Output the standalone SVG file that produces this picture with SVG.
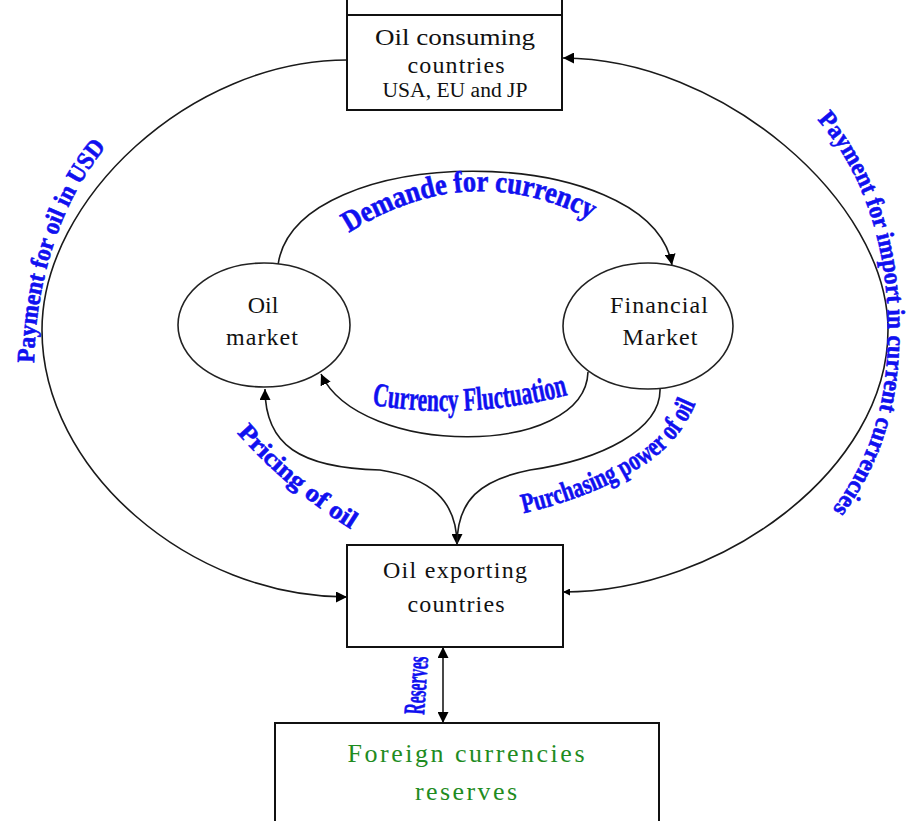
<svg xmlns="http://www.w3.org/2000/svg" width="909" height="821" viewBox="0 0 909 821">
<style>
.box{fill:#fff;stroke:#111;stroke-width:2}
.ell{fill:#fff;stroke:#222;stroke-width:1.6}
.lbl{font-family:"Liberation Serif",serif;fill:#111;text-anchor:middle}
.cn{fill:none;stroke:#1a1a1a;stroke-width:1.6}
.blue{font-family:"Liberation Serif",serif;font-weight:bold;fill:#1010f0;stroke:#1010f0;stroke-width:0.6}
.green{font-family:"Liberation Serif",serif;fill:#1f8c1f;text-anchor:middle}
</style>
<defs>
<marker id="ah" viewBox="0 0 10 10" refX="10" refY="5" markerWidth="11" markerHeight="11" markerUnits="userSpaceOnUse" orient="auto-start-reverse"><path d="M0,0 L10,5 L0,10 z" fill="#000"/></marker>
<marker id="ahs" viewBox="0 0 10 10" refX="10" refY="5" markerWidth="7" markerHeight="7" markerUnits="userSpaceOnUse" orient="auto-start-reverse"><path d="M0,0 L10,5 L0,10 z" fill="#000"/></marker>
<path id="tpLeft" d="M 34 372 C 34 280, 62 196, 112 140"/>
<path id="tpRight" d="M 810 112 C 858 160, 888 240, 888 330 C 888 420, 860 475, 826 518"/>
<path id="tpDem" d="M 338 240 Q 470 150 602 226"/>
<path id="tpCur" d="M 368 404 Q 465 422 572 394"/>
<path id="tpPur" d="M 520 514 C 575 502, 625 480, 655 457 C 675 442, 688 422, 697 400"/>
<path id="tpPri" d="M 236 432 Q 285 488 352 530"/>
</defs>

<g id="connectors">
<path class="cn" d="M 347 60 C 190 60, 42 200, 42 330 C 42 470, 190 597, 347 597" marker-end="url(#ah)"/>
<path class="cn" d="M 563 592 C 720 592, 888 470, 888 330 C 888 200, 720 58, 563 58" marker-start="url(#ahs)" marker-end="url(#ah)"/>
<path class="cn" d="M 278 265 C 295 140, 650 140, 672 265" marker-end="url(#ah)"/>
<path class="cn" d="M 588 372 C 585 458, 360 458, 321 374" marker-end="url(#ah)"/>
<path class="cn" d="M 457 545 C 457 500, 430 478, 380 470 C 300 468, 265 445, 265 389" marker-start="url(#ah)" marker-end="url(#ah)"/>
<path class="cn" d="M 457 545 C 457 500, 480 480, 530 470 C 600 460, 662 430, 660 388"/>
<path class="cn" d="M 443 647 L 443 723" marker-start="url(#ah)" marker-end="url(#ah)"/>
</g>

<g id="labels">
<text class="blue" font-size="25"><textPath href="#tpLeft" startOffset="50%" text-anchor="middle" textLength="232" lengthAdjust="spacingAndGlyphs">Payment for oil in USD</textPath></text>
<text class="blue" font-size="25"><textPath href="#tpRight" startOffset="50%" text-anchor="middle" textLength="418" lengthAdjust="spacingAndGlyphs">Payment for import in current currencies</textPath></text>
<text class="blue" font-size="30"><textPath href="#tpDem" startOffset="50%" text-anchor="middle" textLength="255" lengthAdjust="spacingAndGlyphs">Demande for currency</textPath></text>
<text class="blue" font-size="33"><textPath href="#tpCur" startOffset="50%" text-anchor="middle" textLength="198" lengthAdjust="spacingAndGlyphs">Currency Fluctuation</textPath></text>
<text class="blue" font-size="28"><textPath href="#tpPur" startOffset="50%" text-anchor="middle" textLength="212" lengthAdjust="spacingAndGlyphs">Purchasing power of oil</textPath></text>
<text class="blue" font-size="25"><textPath href="#tpPri" startOffset="50%" text-anchor="middle" textLength="150" lengthAdjust="spacingAndGlyphs">Pricing of oil</textPath></text>
<text class="blue" font-size="30" transform="translate(426,686) rotate(-86)" text-anchor="middle" textLength="58" lengthAdjust="spacingAndGlyphs">Reserves</text>
</g>

<g id="oil-consuming">
<line x1="347" y1="0" x2="347" y2="15" stroke="#111" stroke-width="2"/>
<line x1="562" y1="0" x2="562" y2="15" stroke="#111" stroke-width="2"/>
<rect class="box" x="347" y="15" width="215" height="95"/>
<text class="lbl" x="455" y="45" font-size="24" textLength="160" lengthAdjust="spacingAndGlyphs">Oil consuming</text>
<text class="lbl" x="456" y="73" font-size="24" textLength="97" lengthAdjust="spacing">countries</text>
<text class="lbl" x="455" y="97" font-size="20" textLength="145" lengthAdjust="spacingAndGlyphs">USA, EU and JP</text>
</g>

<g id="oil-market">
<ellipse class="ell" cx="264" cy="325" rx="86" ry="62"/>
<text class="lbl" x="263" y="313" font-size="24">Oil</text>
<text class="lbl" x="262" y="345" font-size="24" textLength="72" lengthAdjust="spacing">market</text>
</g>

<g id="financial-market">
<ellipse class="ell" cx="648" cy="326" rx="85" ry="63"/>
<text class="lbl" x="659" y="313" font-size="24" textLength="98" lengthAdjust="spacing">Financial</text>
<text class="lbl" x="660" y="345" font-size="24" textLength="75" lengthAdjust="spacing">Market</text>
</g>

<g id="oil-exporting">
<rect class="box" x="347" y="545" width="216" height="102"/>
<text class="lbl" x="455" y="578" font-size="24" textLength="144" lengthAdjust="spacing">Oil exporting</text>
<text class="lbl" x="456" y="612" font-size="24" textLength="97" lengthAdjust="spacing">countries</text>
</g>

<g id="foreign-reserves">
<rect class="box" x="275" y="723" width="384" height="120"/>
<text class="green" x="466" y="762" font-size="26" textLength="237" lengthAdjust="spacing">Foreign currencies</text>
<text class="green" x="466" y="800" font-size="26" textLength="102" lengthAdjust="spacing">reserves</text>
</g>
</svg>
